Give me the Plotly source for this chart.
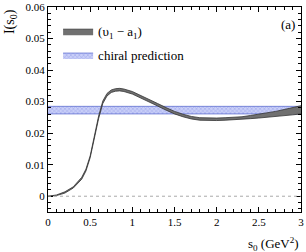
import plotly.graph_objects as go

s0 = [0, 0.1, 0.2, 0.3, 0.4, 0.45, 0.5, 0.55, 0.6, 0.65, 0.7, 0.75, 0.8, 0.85, 0.9,
      1.0, 1.1, 1.2, 1.3, 1.4, 1.5, 1.6, 1.7, 1.8, 1.9, 2.0, 2.1, 2.2, 2.3, 2.4,
      2.5, 2.6, 2.7, 2.8, 2.9, 3.0]
central = [0, 0.0003, 0.0012, 0.0028, 0.0057, 0.0083, 0.0125, 0.019, 0.025, 0.0298,
           0.0322, 0.0333, 0.0337, 0.0338, 0.0336, 0.0328, 0.0316, 0.0303, 0.029,
           0.0277, 0.0265, 0.0256, 0.0249, 0.0245, 0.0244, 0.0244, 0.0245, 0.0246,
           0.0248, 0.0251, 0.0254, 0.0257, 0.0261, 0.0265, 0.0269, 0.0274]
halfwidth = [0, 0.0001, 0.0002, 0.0002, 0.0003, 0.0003, 0.0003, 0.0004, 0.0004, 0.0004,
             0.0004, 0.0004, 0.0004, 0.0004, 0.0004, 0.0004, 0.0004, 0.0004, 0.0004,
             0.0004, 0.0004, 0.0004, 0.0004, 0.0004, 0.0004, 0.0004, 0.0004, 0.0004,
             0.0004, 0.0005, 0.0006, 0.0007, 0.0008, 0.001, 0.0011, 0.0013]
chiral_x = [0, 3]
chiral_low = 0.0261
chiral_high = 0.0285

lower = [c - h for c, h in zip(central, halfwidth)]
upper = [c + h for c, h in zip(central, halfwidth)]

font = "Liberation Serif"
fig = go.Figure()

fig.add_trace(go.Scatter(x=chiral_x, y=[chiral_low] * 2, mode="lines",
                         line=dict(color="#6070d0", width=0.8), showlegend=False,
                         legendgroup="chiral", legendrank=2, hoverinfo="skip"))
fig.add_trace(go.Scatter(x=chiral_x, y=[chiral_high] * 2, mode="lines", fill="tonexty",
                         fillcolor="#b8c0f4", legendgroup="chiral", legendrank=2,
                         fillpattern=dict(shape="x", fgcolor="#6a78d8", bgcolor="#c8cef8",
                                          size=3, solidity=0.3),
                         line=dict(color="#6070d0", width=0.8), name="chiral prediction"))
fig.add_trace(go.Scatter(x=s0, y=lower, mode="lines", line=dict(color="#333333", width=0.8),
                         showlegend=False, legendgroup="data", legendrank=1,
                         hoverinfo="skip"))
fig.add_trace(go.Scatter(x=s0, y=upper, mode="lines", fill="tonexty", fillcolor="#707070",
                         line=dict(color="#333333", width=0.8), legendgroup="data",
                         legendrank=1, name="(\u03c5<sub>1</sub> \u2212 a<sub>1</sub>)"))

fig.add_hline(y=0, line=dict(color="#aaaaaa", width=1, dash="dot"))

fig.add_annotation(text="(a)", xref="paper", yref="paper", x=0.985, y=0.915,
                   xanchor="right", yanchor="middle", showarrow=False,
                   font=dict(family=font, size=13, color="black"))
fig.add_annotation(text="s<sub>0</sub> (GeV<sup>2</sup>)", xref="paper", yref="paper",
                   x=1.0, y=-0.1, xanchor="right", yanchor="top", showarrow=False,
                   font=dict(family=font, size=13, color="black"))
fig.add_annotation(text="I(s<sub>0</sub>)", xref="paper", yref="paper",
                   x=-0.148, y=1.0, xanchor="center", yanchor="top", textangle=-90,
                   showarrow=False, font=dict(family=font, size=14, color="black"))

axis_common = dict(showgrid=False, zeroline=False, showline=True, linecolor="black",
                   linewidth=1, mirror="allticks", ticks="inside", ticklen=5,
                   tickcolor="black", automargin=False,
                   tickfont=dict(family=font, size=11, color="black"))

fig.update_xaxes(range=[0, 3], dtick=0.5, tick0=0,
                 minor=dict(dtick=0.1, ticks="inside", ticklen=3, tickcolor="black",
                            tickwidth=1, showgrid=False),
                 **axis_common)
fig.update_yaxes(range=[-0.005, 0.06], dtick=0.01, tick0=0, tickformat="~g",
                 minor=dict(dtick=0.002, ticks="inside", ticklen=3, tickcolor="black",
                            tickwidth=1, showgrid=False),
                 **axis_common)

fig.update_layout(
    width=306, height=252,
    margin=dict(l=48, r=5, t=7, b=40),
    paper_bgcolor="white", plot_bgcolor="white",
    font=dict(family=font, size=11, color="black"),
    legend=dict(x=0.04, y=0.955, xanchor="left", yanchor="top", bgcolor="rgba(0,0,0,0)",
                font=dict(family=font, size=13, color="black"), itemwidth=30,
                traceorder="grouped", tracegroupgap=4),
)

fig.write_html("out.html", config={"displayModeBar": False},
               post_script="document.body.style.margin='0';document.body.style.overflow='hidden';")
